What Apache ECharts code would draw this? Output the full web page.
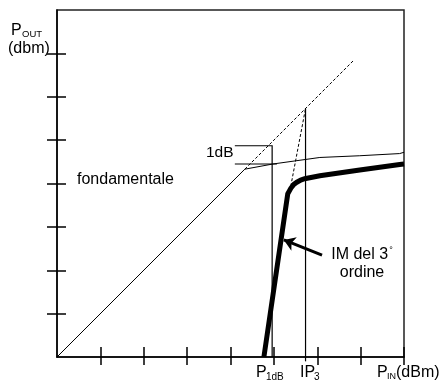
<!DOCTYPE html>
<html>
<head>
<meta charset="utf-8">
<script src="https://cdn.jsdelivr.net/npm/echarts@6/dist/echarts.min.js"></script>
<style>
html,body{margin:0;padding:0;background:#fff;}
#c{width:441px;height:382px;}
</style>
</head>
<body>
<div id="c"></div>
<script>
// ---- data (axis units, 0..8) ----
var xTicks = [1, 2, 3, 4, 5, 6, 7, 8];
var yTicks = [1, 2, 3, 4, 5, 6, 7];
var fundamental = [[0, 0], [4.33, 4.33], [4.98, 4.45], [6.06, 4.60], [6.98, 4.64], [7.90, 4.69], [8.0, 4.72]];
var fundExtrap = [[4.33, 4.33], [6.85, 6.85]];
var im3 = [[4.77, 0], [5.32, 3.76], [5.39, 3.89], [5.46, 3.98], [5.53, 4.03], [5.62, 4.08], [5.71, 4.11], [6.06, 4.18], [6.98, 4.31], [7.90, 4.44], [8.0, 4.45]];
var im3Extrap = [[5.39, 3.94], [5.73, 5.73]];
var p1dbUpper = [[4.10, 4.87], [4.96, 4.87], [4.96, 0]];
var p1dbLower = [[4.10, 4.45], [5.07, 4.45]];
var ip3Line = [[5.73, 5.73], [5.73, -0.1]];
var arrowFrom = [6.11, 2.35];
var arrowTo = [5.23, 2.70];

var FONT = '"Liberation Sans", Arial, sans-serif';
var chart = echarts.init(document.getElementById('c'), null, {renderer: 'canvas'});

function lineSeries(data, width, type) {
  return {
    type: 'line', data: data, symbol: 'none', silent: true, animation: false,
    xAxisIndex: 0, yAxisIndex: 0, clip: false,
    lineStyle: {color: '#000', width: width, type: type || 'solid', cap: 'butt', join: 'miter'}
  };
}

function txt(x, y, text, size, align) {
  return {type: 'text', left: undefined, x: x, y: y, silent: true,
    style: {text: text, font: size + 'px ' + FONT, fill: '#000', textVerticalAlign: 'middle', verticalAlign: 'middle', textAlign: align || 'left', align: align || 'left'}};
}

var axisCommon = {type: 'value', min: 0, max: 8, interval: 1, splitLine: {show: false}, axisLabel: {show: false}};

chart.setOption({
  backgroundColor: '#fff',
  animation: false,
  grid: {left: 57, right: 37, top: 10, bottom: 25, show: true, borderColor: '#222', borderWidth: 1.5, outerBoundsMode: 'none', containLabel: false},
  xAxis: [
    Object.assign({}, axisCommon, {position: 'bottom',
      axisLine: {show: true, lineStyle: {color: '#000', width: 1.5}},
      axisTick: {show: true, customValues: xTicks, length: 8, lineStyle: {color: '#000', width: 1.5}}}),
    Object.assign({}, axisCommon, {position: 'bottom',
      axisLine: {show: false},
      axisTick: {show: true, inside: true, customValues: xTicks, length: 10, lineStyle: {color: '#000', width: 1.5}}})
  ],
  yAxis: [
    Object.assign({}, axisCommon, {position: 'left',
      axisLine: {show: true, lineStyle: {color: '#000', width: 1.5}},
      axisTick: {show: true, customValues: yTicks, length: 10, lineStyle: {color: '#000', width: 1.5}}}),
    Object.assign({}, axisCommon, {position: 'left',
      axisLine: {show: false},
      axisTick: {show: true, inside: true, customValues: yTicks, length: 9, lineStyle: {color: '#000', width: 1.5}}})
  ],
  series: [
    lineSeries(fundamental, 1),
    lineSeries(fundExtrap, 1, [3, 2]),
    lineSeries(p1dbUpper, 1.2),
    lineSeries(p1dbLower, 1.2),
    lineSeries(ip3Line, 1.2),
    lineSeries(im3Extrap, 1, [3, 2]),
    lineSeries(im3, 5),
    {
      type: 'lines', coordinateSystem: 'cartesian2d', silent: true, animation: false,
      symbol: ['none', 'arrow'], symbolSize: [0, 11],
      lineStyle: {color: '#000', width: 3, opacity: 1, curveness: 0},
      data: [{coords: [arrowFrom, arrowTo]}]
    }
  ],
  graphic: [
    txt(11, 31, 'P', 16),
    txt(22, 34, 'OUT', 9.5),
    txt(8, 49, '(dbm)', 16),
    txt(77, 180, 'fondamentale', 16),
    txt(206, 153, '1dB', 15.5),
    {type: 'text', x: 362, y: 255, silent: true,
      style: {text: 'IM del 3{s|°}', font: '16px ' + FONT, fill: '#000', align: 'center', verticalAlign: 'middle',
        rich: {s: {fontSize: 9, fontFamily: FONT, padding: [0, 0, 9, 1]}}}},
    txt(362, 273, 'ordine', 16, 'center'),
    txt(256, 373, 'P', 16),
    txt(266, 377, '1dB', 10),
    txt(300, 373, 'IP', 16),
    txt(314, 377, '3', 10),
    txt(377, 373, 'P', 16),
    txt(387, 377, 'IN', 9),
    txt(396, 373, '(dBm)', 16)
  ]
});
</script>
</body>
</html>
